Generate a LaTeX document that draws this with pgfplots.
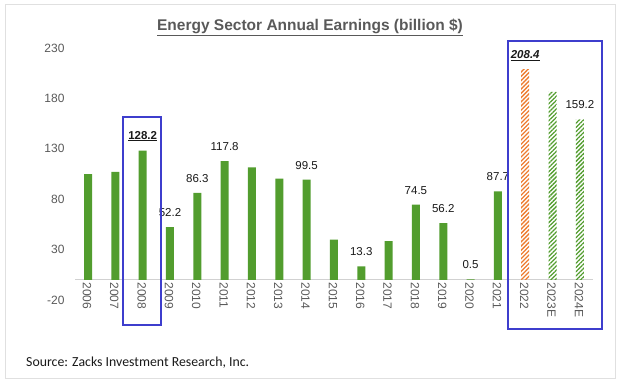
\documentclass[border=0pt]{standalone}
\usepackage{pgfplots}
\pgfplotsset{compat=1.18}
\usetikzlibrary{patterns.meta}
\usepackage{fontspec}
\setmainfont{Liberation Sans}
\newfontfamily\calibri{Carlito}
\definecolor{bargreen}{RGB}{82,157,46}
\definecolor{barorange}{RGB}{237,125,49}
\definecolor{boxblue}{RGB}{62,62,205}
\definecolor{ticktext}{RGB}{89,89,89}
\begin{document}
\begin{tikzpicture}
\path (0,0) rectangle (620pt,381pt);
\draw[black!12, line width=1pt] (5pt,3pt) rectangle (615pt,376pt);
\begin{axis}[
  at={(75pt,81pt)}, anchor=south west,
  scale only axis, width=518pt, height=252pt,
  xmin=-0.476, xmax=18.48, ymin=-20, ymax=230,
  axis x line=middle, axis y line=left,
  axis line style={-},
  x axis line style={draw=black!18, line width=0.8pt},
  y axis line style={draw=none},
  major tick length=0pt,
  xtick={0,...,18},
  xticklabels={2006,2007,2008,2009,2010,2011,2012,2013,2014,2015,2016,2017,2018,2019,2020,2021,2022,2023E,2024E},
  xticklabel style={rotate=-90, anchor=west, font=\fontsize{12}{12}\selectfont, text=ticktext, xshift=-1pt, yshift=-1pt},
  ytick={-20,30,80,130,180,230},
  yticklabels={-20,30,80,130,180,230},
  yticklabel style={font=\fontsize{12}{12}\selectfont, text=ticktext, anchor=east, xshift=-7pt},
  clip=false,
]
\addplot[ybar, bar width=8pt, bar shift=0pt, fill=bargreen, draw=none] coordinates {
(0,105) (1,107) (2,128.2) (3,52.2) (4,86.3) (5,117.8) (6,111.5) (7,100.5) (8,99.5)
(9,40) (10,13.3) (11,38.5) (12,74.5) (13,56.2) (14,0.5) (15,87.7)};
\addplot[ybar, bar width=8pt, bar shift=0pt, draw=none,
  pattern={Lines[angle=45,distance=3pt,line width=1.3pt]}, pattern color=barorange] coordinates {(16,208.4)};
\addplot[ybar, bar width=8pt, bar shift=0pt, draw=none,
  pattern={Lines[angle=45,distance=3pt,line width=1.3pt]}, pattern color=bargreen] coordinates {(17,186.5) (18,159.2)};
\begin{scope}[every node/.style={font=\fontsize{11.5}{12}\selectfont, text=black!90, anchor=center, yshift=14.5pt}]
\node at (axis cs:2,128.2) {\textbf{\underline{128.2}}};
\node at (axis cs:3,52.2) {52.2};
\node at (axis cs:4,86.3) {86.3};
\node at (axis cs:5,117.8) {117.8};
\node at (axis cs:8,99.5) {99.5};
\node at (axis cs:10,13.3) {13.3};
\node at (axis cs:12,74.5) {74.5};
\node at (axis cs:13,56.2) {56.2};
\node at (axis cs:14,0.5) {0.5};
\node at (axis cs:15,87.7) {87.7};
\node at (axis cs:16,208.4) {\textbf{\textit{\underline{208.4}}}};
\node at (axis cs:18,159.2) {159.2};
\end{scope}
\end{axis}
\draw[boxblue, line width=2.5pt] (123pt,56pt) rectangle (161pt,264pt);
\draw[boxblue, line width=2.5pt] (508pt,52pt) rectangle (602pt,340pt);
\node[font=\bfseries\fontsize{15.5}{17}\selectfont, text=ticktext] at (310pt,354pt) {\underline{Energy Sector Annual Earnings (billion \$)}};
\node[font=\calibri\fontsize{13.8}{15}\selectfont, anchor=west, inner sep=0pt, text=black!90] at (26pt,18pt) {Source: Zacks Investment Research, Inc.};
\end{tikzpicture}
\end{document}
